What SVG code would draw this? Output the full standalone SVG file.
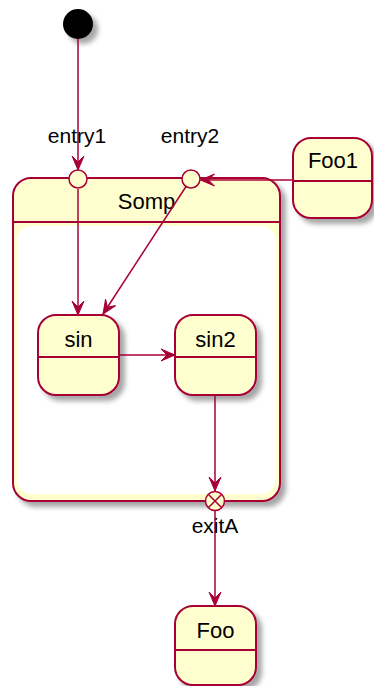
<svg xmlns="http://www.w3.org/2000/svg" width="374" height="686" viewBox="0 0 374 686">
<style>
.st{fill:#FEFECE;stroke:#A80036;stroke-width:2}
.sep{stroke:#A80036;stroke-width:2;fill:none}
.ln{stroke:#A80036;stroke-width:1.5;fill:none}
.t{font-family:"Liberation Sans",Arial,sans-serif;font-size:22px;fill:#000;text-anchor:middle}
.pt{font-family:"Liberation Sans",Arial,sans-serif;font-size:21px;fill:#000;text-anchor:middle}
.sh{filter:url(#shadow)}
</style>
<defs>
<filter id="shadow" x="-20%" y="-20%" width="150%" height="150%">
<feGaussianBlur in="SourceAlpha" stdDeviation="2.5"/>
<feOffset dx="5" dy="5" result="b"/>
<feFlood flood-color="#000" flood-opacity="0.35"/>
<feComposite in2="b" operator="in"/>
<feMerge><feMergeNode/><feMergeNode in="SourceGraphic"/></feMerge>
</filter>
<marker id="arr" viewBox="-15 -7 16 14" refX="0" refY="0" markerWidth="16" markerHeight="14" markerUnits="userSpaceOnUse" orient="auto">
<path d="M0,0 L-14,-6 L-8,0 L-14,6 Z" fill="#A80036" stroke="#A80036" stroke-width="1"/>
</marker>
</defs>
<rect width="374" height="686" fill="#fff"/>

<g id="start">
<circle cx="78" cy="24" r="15" fill="#000" class="sh"/>
</g>

<g id="Somp">
<rect class="st sh" x="13" y="178" width="267" height="323" rx="18"/>
<line class="sep" x1="13" y1="222" x2="280" y2="222"/>
<rect x="17" y="226" width="259" height="268" rx="15" fill="#fff"/>
<text class="t" x="146.5" y="209">Somp</text>
</g>

<g id="Foo1">
<rect class="st sh" x="293" y="138" width="79" height="80" rx="18"/>
<line class="sep" x1="293" y1="181" x2="372" y2="181"/>
<text class="t" x="333" y="168">Foo1</text>
</g>

<g id="sin">
<rect class="st sh" x="38" y="315" width="81" height="80" rx="18"/>
<line class="sep" x1="38" y1="357" x2="119" y2="357"/>
<text class="t" x="78.5" y="347">sin</text>
</g>

<g id="sin2">
<rect class="st sh" x="175" y="315" width="81" height="80" rx="18"/>
<line class="sep" x1="175" y1="357" x2="256" y2="357"/>
<text class="t" x="215.5" y="347">sin2</text>
</g>

<g id="Foo">
<rect class="st sh" x="175" y="606" width="81" height="79" rx="18"/>
<line class="sep" x1="175" y1="650" x2="256" y2="650"/>
<text class="t" x="215.5" y="638">Foo</text>
</g>

<g id="connectors">
<line class="ln" x1="78" y1="39" x2="78" y2="170" marker-end="url(#arr)"/>
<line class="ln" x1="293" y1="180" x2="200.5" y2="180" marker-end="url(#arr)"/>
<line class="ln" x1="78" y1="189" x2="78" y2="315" marker-end="url(#arr)"/>
<line class="ln" x1="186" y1="186.5" x2="103" y2="314" marker-end="url(#arr)"/>
<line class="ln" x1="119" y1="355" x2="175" y2="355" marker-end="url(#arr)"/>
<line class="ln" x1="215" y1="395" x2="215" y2="491" marker-end="url(#arr)"/>
<line class="ln" x1="215" y1="511" x2="215" y2="606" marker-end="url(#arr)"/>
</g>

<g id="entry1">
<circle cx="78" cy="179" r="9" fill="#FEFECE" stroke="#A80036" stroke-width="1.5"/>
<text class="pt" x="77" y="143">entry1</text>
</g>
<g id="entry2">
<circle cx="191" cy="179" r="9" fill="#FEFECE" stroke="#A80036" stroke-width="1.5"/>
<text class="pt" x="190" y="143">entry2</text>
</g>
<g id="exitA">
<circle cx="215" cy="501" r="9.5" fill="#FEFECE" stroke="#A80036" stroke-width="1.5"/>
<path d="M208.5,494.5 L221.5,507.5 M221.5,494.5 L208.5,507.5" stroke="#A80036" stroke-width="1.5"/>
<text class="pt" x="215" y="533">exitA</text>
</g>
</svg>
